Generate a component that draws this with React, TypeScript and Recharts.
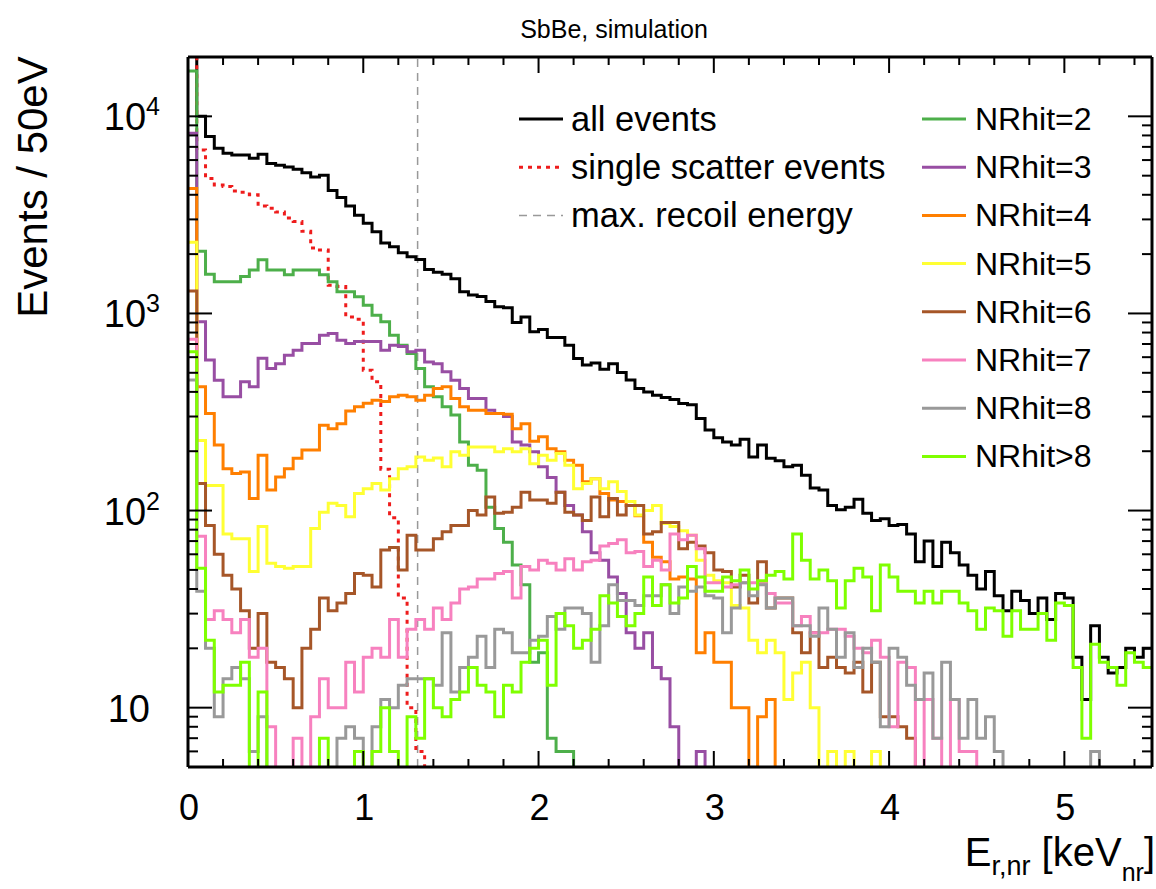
import React from "react";
import { LineChart, Line, XAxis, YAxis, ReferenceLine, Legend } from "recharts";

const FONT = '"Liberation Sans", Arial, Helvetica, sans-serif';

// 50 eV bins, 0 .. 5.5 keV_nr
const BIN_WIDTH = 0.05;
const N_BINS = 110;
const X_MAX = 5.5;
const MAX_RECOIL_KEV = 1.31;
const EMPTY_BIN = 1; // empty bins sit below the axis floor and get clipped

const X_TICKS = [
  0, 0.2, 0.4, 0.6, 0.8, 1, 1.2, 1.4, 1.6, 1.8, 2, 2.2, 2.4, 2.6, 2.8, 3, 3.2,
  3.4, 3.6, 3.8, 4, 4.2, 4.4, 4.6, 4.8, 5, 5.2, 5.4,
];
const Y_DOMAIN = [5, 20000];
const Y_TICKS = [
  5, 6, 7, 8, 9, 10, 20, 30, 40, 50, 60, 70, 80, 90, 100, 200, 300, 400, 500,
  600, 700, 800, 900, 1000, 2000, 3000, 4000, 5000, 6000, 7000, 8000, 9000,
  10000,
];
const Y_LABELS: Record<number, string> = { 10: "", 100: "2", 1000: "3", 10000: "4" };

const ALL_EVENTS = [
  30000, 10000, 7890, 6890, 6490, 6360, 6360, 6120, 6420, 5770,
  5650, 5540, 5390, 5180, 4920, 5020, 4200, 3880, 3510, 3150,
  2870, 2600, 2280, 2180, 2030, 1940, 1880, 1670, 1620, 1580,
  1500, 1290, 1240, 1220, 1150, 1080, 1070, 900, 960, 807,
  830, 755, 755, 690, 591, 547, 560, 521, 555, 502,
  459, 416, 400, 385, 375, 366, 349, 344, 293, 256,
  234, 223, 215, 230, 187, 215, 184, 179, 167, 170,
  151, 130, 127, 106, 101, 104, 114, 97, 89, 91,
  84, 85, 76, 55, 70, 52, 69, 61, 53, 47,
  40, 49, 37, 31, 39, 35, 30, 36, 28, 38,
  36, 18, 11, 26, 18, 15, 16, 20, 18, 20,
];

const SINGLE_SCATTER = [
  25000, 6740, 4840, 4480, 4400, 4180, 4120, 4000, 3510, 3420,
  3270, 3050, 2930, 2610, 2150, 2100, 1390, 1370, 960, 935,
  515, 450, 162, 92, 36, 10, 6, 0, 0, 0,
  0, 0, 0, 0, 0, 0, 0, 0, 0, 0,
  0, 0, 0, 0, 0, 0, 0, 0, 0, 0,
  0, 0, 0, 0, 0, 0, 0, 0, 0, 0,
  0, 0, 0, 0, 0, 0, 0, 0, 0, 0,
  0, 0, 0, 0, 0, 0, 0, 0, 0, 0,
  0, 0, 0, 0, 0, 0, 0, 0, 0, 0,
  0, 0, 0, 0, 0, 0, 0, 0, 0, 0,
  0, 0, 0, 0, 0, 0, 0, 0, 0, 0,
];

const NRHIT_2 = [
  17000, 2070, 1580, 1450, 1450, 1450, 1540, 1660, 1870, 1660,
  1660, 1570, 1660, 1660, 1660, 1570, 1450, 1290, 1290, 1215,
  1100, 980, 907, 776, 690, 626, 526, 425, 378, 336,
  305, 223, 170, 160, 104, 81, 69, 53, 42, 17,
  19, 7, 6, 6, 0, 0, 0, 0, 0, 0,
  0, 0, 0, 0, 0, 0, 0, 0, 0, 0,
  0, 0, 0, 0, 0, 0, 0, 0, 0, 0,
  0, 0, 0, 0, 0, 0, 0, 0, 0, 0,
  0, 0, 0, 0, 0, 0, 0, 0, 0, 0,
  0, 0, 0, 0, 0, 0, 0, 0, 0, 0,
  0, 0, 0, 0, 0, 0, 0, 0, 0, 0,
];

const NRHIT_3 = [
  8200, 907, 580, 458, 378, 378, 450, 425, 592, 526,
  556, 614, 651, 704, 704, 776, 791, 732, 704, 720,
  720, 720, 651, 690, 680, 640, 651, 567, 556, 506,
  458, 416, 370, 370, 323, 311, 300, 223, 215, 199,
  167, 147, 124, 106, 95, 78, 61, 56, 46, 38,
  24, 20, 24, 16, 14, 8, 0, 0, 6, 0,
  0, 0, 0, 0, 0, 0, 0, 0, 0, 0,
  0, 0, 0, 0, 0, 0, 0, 0, 0, 0,
  0, 0, 0, 0, 0, 0, 0, 0, 0, 0,
  0, 0, 0, 0, 0, 0, 0, 0, 0, 0,
  0, 0, 0, 0, 0, 0, 0, 0, 0, 0,
];

const NRHIT_4 = [
  4300, 425, 311, 215, 163, 154, 157, 115, 191, 127,
  148, 163, 184, 203, 203, 271, 260, 276, 320, 336,
  350, 363, 358, 378, 385, 378, 363, 385, 416, 425,
  370, 336, 323, 323, 311, 311, 308, 260, 276, 225,
  237, 206, 199, 180, 170, 140, 145, 122, 113, 111,
  106, 94, 69, 58, 55, 45, 46, 45, 19, 24,
  17, 17, 10, 10, 0, 9, 11, 0, 0, 0,
  0, 0, 0, 0, 0, 0, 0, 0, 0, 0,
  0, 0, 0, 0, 0, 0, 0, 0, 0, 0,
  0, 0, 0, 0, 0, 0, 0, 0, 0, 0,
  0, 0, 0, 0, 0, 0, 0, 0, 0, 0,
];

const NRHIT_5 = [
  2300, 227, 134, 134, 76, 72, 72, 49, 83, 54,
  52, 51, 52, 52, 81, 98, 109, 106, 93, 122,
  129, 137, 127, 145, 163, 167, 187, 180, 185, 167,
  199, 191, 210, 210, 210, 199, 206, 199, 206, 173,
  191, 180, 195, 170, 129, 137, 145, 129, 140, 125,
  111, 95, 100, 106, 86, 83, 79, 75, 56, 47,
  44, 43, 33, 32, 22, 19, 22, 19, 11, 15,
  17, 10, 0, 6, 0, 6, 0, 0, 6, 0,
  0, 0, 0, 0, 0, 0, 0, 0, 0, 0,
  0, 0, 0, 0, 0, 0, 0, 0, 0, 0,
  0, 0, 0, 0, 0, 0, 0, 0, 0, 0,
];

const NRHIT_6 = [
  1300, 137, 84, 60, 47, 40, 31, 20, 30, 17,
  16, 14, 10, 20, 25, 36, 31, 34, 38, 48,
  47, 41, 63, 65, 50, 75, 63, 63, 72, 78,
  84, 84, 100, 95, 117, 97, 98, 104, 124, 113,
  113, 109, 124, 98, 95, 89, 117, 93, 115, 95,
  106, 106, 76, 78, 87, 87, 64, 69, 66, 61,
  50, 49, 41, 47, 34, 55, 32, 36, 36, 24,
  19, 24, 16, 18, 16, 15, 17, 12, 17, 9,
  9, 8, 7, 0, 0, 0, 0, 0, 0, 0,
  0, 0, 0, 0, 0, 0, 0, 0, 0, 0,
  0, 0, 0, 0, 0, 0, 0, 0, 0, 0,
];

const NRHIT_7 = [
  740, 74, 28, 31, 28, 24, 28, 18, 20, 8,
  0, 0, 7, 0, 9, 14, 10, 10, 17, 12,
  18, 20, 18, 28, 18, 25, 28, 25, 32, 28,
  34, 40, 41, 45, 45, 48, 49, 36, 52, 50,
  56, 54, 50, 57, 50, 55, 56, 66, 68, 71,
  61, 62, 52, 56, 50, 76, 71, 75, 64, 43,
  43, 41, 42, 43, 43, 43, 38, 34, 34, 26,
  29, 24, 24, 25, 25, 23, 20, 19, 22, 18,
  8, 17, 16, 0, 11, 7, 0, 11, 6, 6,
  0, 0, 0, 0, 0, 0, 0, 0, 0, 0,
  0, 0, 0, 0, 0, 0, 0, 0, 0, 0,
];

const NRHIT_8 = [
  460, 39, 20, 9, 14, 16, 14, 6, 9, 0,
  0, 0, 0, 0, 0, 0, 0, 7, 8, 7,
  0, 8, 11, 10, 13, 14, 14, 14, 13, 24,
  12, 16, 18, 23, 16, 25, 24, 19, 19, 22,
  23, 29, 25, 32, 32, 30, 17, 26, 42, 35,
  35, 33, 37, 37, 42, 30, 41, 39, 41, 37,
  36, 24, 32, 43, 37, 42, 32, 36, 36, 26,
  26, 23, 32, 25, 18, 24, 16, 20, 17, 8,
  20, 18, 13, 11, 15, 7, 17, 11, 7, 11,
  7, 9, 6, 0, 0, 0, 0, 0, 0, 0,
  0, 0, 0, 6, 0, 0, 0, 0, 0, 0,
];

const NRHIT_GT8 = [
  640, 51, 22, 12, 13, 13, 17, 0, 12, 0,
  0, 0, 0, 0, 0, 7, 0, 0, 0, 6,
  0, 6, 10, 6, 0, 9, 7, 14, 10, 9,
  11, 12, 16, 13, 12, 9, 13, 12, 17, 20,
  22, 13, 30, 26, 20, 22, 25, 37, 34, 29,
  26, 30, 46, 33, 42, 34, 36, 52, 46, 39,
  39, 46, 44, 50, 40, 44, 47, 49, 45, 76,
  56, 45, 50, 44, 32, 44, 51, 46, 31, 53,
  46, 39, 39, 34, 39, 34, 39, 39, 34, 31,
  25, 32, 31, 23, 31, 25, 25, 30, 22, 34,
  33, 16, 7, 21, 17, 16, 13, 19, 17, 16,
];

const SERIES = [
  { key: "all", name: "all events", color: "#000000", values: ALL_EVENTS, dash: undefined as string | undefined },
  { key: "single", name: "single scatter events", color: "#ee1c1c", values: SINGLE_SCATTER, dash: "4 5" },
  { key: "nr2", name: "NRhit=2", color: "#4daf4a", values: NRHIT_2, dash: undefined },
  { key: "nr3", name: "NRhit=3", color: "#984ea3", values: NRHIT_3, dash: undefined },
  { key: "nr4", name: "NRhit=4", color: "#ff7f00", values: NRHIT_4, dash: undefined },
  { key: "nr5", name: "NRhit=5", color: "#ffff33", values: NRHIT_5, dash: undefined },
  { key: "nr6", name: "NRhit=6", color: "#a65628", values: NRHIT_6, dash: undefined },
  { key: "nr7", name: "NRhit=7", color: "#f781bf", values: NRHIT_7, dash: undefined },
  { key: "nr8", name: "NRhit=8", color: "#999999", values: NRHIT_8, dash: undefined },
  { key: "nrgt8", name: "NRhit>8", color: "#7fff00", values: NRHIT_GT8, dash: undefined },
];

// one row per bin left edge, plus a closing row at the upper edge
const rows = Array.from({ length: N_BINS + 1 }, (_, i) => {
  const bin = Math.min(i, N_BINS - 1);
  const row: Record<string, number> = { x: Number((i * BIN_WIDTH).toFixed(2)) };
  SERIES.forEach((s) => {
    const v = s.values[bin];
    row[s.key] = v > 0 ? v : EMPTY_BIN;
  });
  return row;
});

const XTick = (props: any) => {
  const { x, y, payload, side } = props;
  const major = Number.isInteger(payload.value);
  const len = major ? 16 : 8;
  const dir = side === "top" ? 1 : -1;
  return (
    <g>
      <line x1={x} y1={y} x2={x} y2={y + dir * len} stroke="#000" strokeWidth={2} />
      {side === "bottom" && major && (
        <text x={x + 1} y={y + 53} textAnchor="middle" fontSize={36} fontFamily={FONT} fill="#000">
          {payload.value}
        </text>
      )}
    </g>
  );
};

const YTick = (props: any) => {
  const { x, y, payload, side } = props;
  const major = payload.value in Y_LABELS;
  const len = major ? 24 : 10;
  const dir = side === "left" ? 1 : -1;
  const sup = Y_LABELS[payload.value];
  return (
    <g>
      <line x1={x} y1={y} x2={x + dir * len} y2={y} stroke="#000" strokeWidth={2} />
      {side === "left" && major && (
        <text x={sup ? x - 28 : x - 38} y={y + 14} textAnchor="end" fontSize={38} fontFamily={FONT} fill="#000">
          10
          {sup && (
            <tspan fontSize={25} dy={-15}>
              {sup}
            </tspan>
          )}
        </text>
      )}
    </g>
  );
};

const ChartTitle = () => (
  <text x={614} y={38} textAnchor="middle" fontSize={25} fontFamily={FONT} fill="#000">
    SbBe, simulation
  </text>
);

const YTitle = () => (
  <text transform="rotate(-90)" x={-187} y={47} textAnchor="middle" fontSize={42} fontFamily={FONT} fill="#000">
    Events / 50eV
  </text>
);

const XTitle = () => (
  <text x={1155} y={866} textAnchor="end" fontSize={40} fontFamily={FONT} fill="#000">
    E
    <tspan fontSize={27} dy={9}>r,nr</tspan>
    <tspan dy={-9}> [keV</tspan>
    <tspan fontSize={25} dy={15}>nr</tspan>
    <tspan dy={-15}>]</tspan>
  </text>
);

const LegendBox = () => {
  const left = [
    { name: "all events", color: "#000000", dash: undefined as string | undefined, w: 3 },
    { name: "single scatter events", color: "#ee1c1c", dash: "4 5", w: 3 },
    { name: "max. recoil energy", color: "#999999", dash: "8 6", w: 1.5 },
  ];
  const right = SERIES.slice(2);
  const rowY = (k: number) => 29 + k * 48.2;
  return (
    <svg width={640} height={400} style={{ display: "block" }}>
      {left.map((e, k) => (
        <g key={e.name}>
          <line x1={19} x2={63} y1={rowY(k)} y2={rowY(k)} stroke={e.color} strokeWidth={e.w} strokeDasharray={e.dash} />
          <text x={71} y={rowY(k) + 12} fontSize={34.5} fontFamily={FONT} fill="#000">
            {e.name}
          </text>
        </g>
      ))}
      {right.map((s, k) => (
        <g key={s.key}>
          <line x1={422} x2={466} y1={rowY(k)} y2={rowY(k)} stroke={s.color} strokeWidth={3} />
          <text x={475} y={rowY(k) + 11} fontSize={32} fontFamily={FONT} fill="#000">
            {s.name}
          </text>
        </g>
      ))}
    </svg>
  );
};

export default function App() {
  const axisLine = { stroke: "#000", strokeWidth: 3 };
  return (
    <div style={{ position: "absolute", left: 0, top: 0, width: 1156, height: 889, background: "#fff" }}>
      <LineChart width={1156} height={889} data={rows} margin={{ top: 56, right: 2, bottom: 62, left: 0 }}>
        <XAxis
          xAxisId="b"
          dataKey="x"
          type="number"
          domain={[0, X_MAX]}
          ticks={X_TICKS}
          interval={0}
          allowDataOverflow
          height={60}
          axisLine={axisLine}
          tickLine={false}
          tickSize={0}
          tickMargin={0}
          tick={<XTick side="bottom" />}
          label={<XTitle />}
        />
        <XAxis
          xAxisId="t"
          orientation="top"
          dataKey="x"
          type="number"
          domain={[0, X_MAX]}
          ticks={X_TICKS}
          interval={0}
          allowDataOverflow
          height={1}
          axisLine={axisLine}
          tickLine={false}
          tickSize={0}
          tickMargin={0}
          tick={<XTick side="top" />}
          label={<ChartTitle />}
        />
        <YAxis
          yAxisId="l"
          type="number"
          scale="log"
          domain={Y_DOMAIN}
          ticks={Y_TICKS}
          interval={0}
          allowDataOverflow
          width={188}
          axisLine={axisLine}
          tickLine={false}
          tickSize={0}
          tickMargin={0}
          tick={<YTick side="left" />}
          label={<YTitle />}
        />
        <YAxis
          yAxisId="r"
          orientation="right"
          type="number"
          scale="log"
          domain={Y_DOMAIN}
          ticks={Y_TICKS}
          interval={0}
          allowDataOverflow
          width={2}
          axisLine={axisLine}
          tickLine={false}
          tickSize={0}
          tickMargin={0}
          tick={<YTick side="right" />}
        />
        <ReferenceLine
          xAxisId="b"
          yAxisId="l"
          x={MAX_RECOIL_KEV}
          stroke="#999999"
          strokeWidth={1.5}
          strokeDasharray="8 6"
        />
        {SERIES.map((s) => (
          <Line
            key={s.key}
            xAxisId="b"
            yAxisId="l"
            type="stepAfter"
            dataKey={s.key}
            name={s.name}
            stroke={s.color}
            strokeWidth={3}
            strokeDasharray={s.dash}
            dot={false}
            activeDot={false}
            isAnimationActive={false}
          />
        ))}
        <Legend
          layout="horizontal"
          verticalAlign="middle"
          align="center"
          content={<LegendBox />}
          wrapperStyle={{ position: "absolute", left: 500, top: 90, width: 640, height: 400 }}
        />
      </LineChart>
    </div>
  );
}
